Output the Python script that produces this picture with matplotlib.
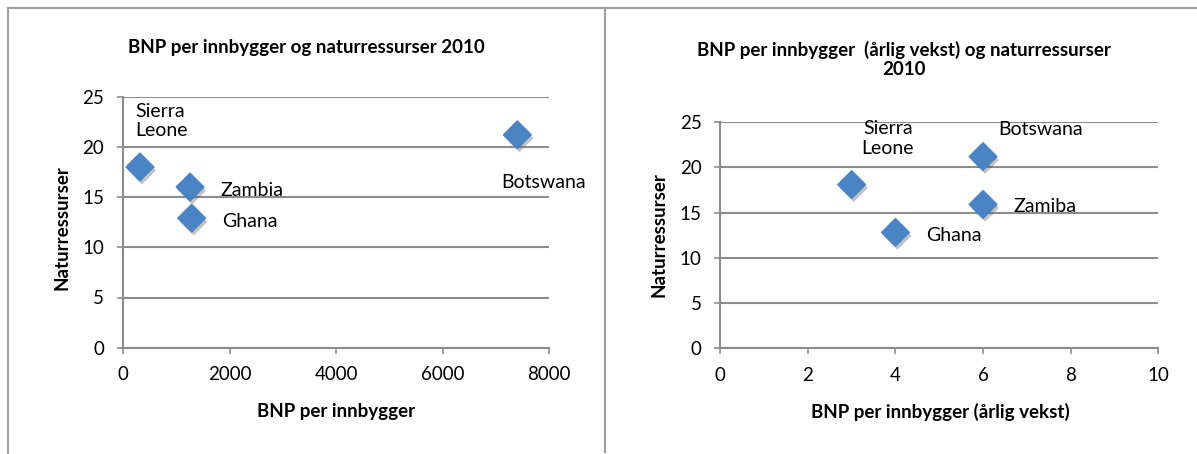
import matplotlib
matplotlib.use("Agg")
import matplotlib.pyplot as plt
import matplotlib.patheffects as pe
from matplotlib.lines import Line2D

plt.rcParams['font.family'] = ['Lato', 'DejaVu Sans']

# data
countries = ['Sierra\nLeone', 'Zambia', 'Ghana', 'Botswana']
bnp = [320, 1260, 1290, 7400]
ressurser_1 = [18.0, 16.0, 12.9, 21.2]

countries_2 = ['Sierra\nLeone', 'Botswana', 'Zamiba', 'Ghana']
vekst = [3, 6, 6, 4]
ressurser_2 = [18.1, 21.2, 15.9, 12.8]

# label offsets in pixels (dx, dy) and alignment
offs_1 = [(-5, 46, 'left'), (30, -3, 'left'), (30, -3, 'left'), (-16, -48, 'left')]
offs_2 = [(36, 46, 'center'), (15, 27, 'left'), (30, -2, 'left'), (31, -3, 'left')]

W, H = 1197, 454
fig = plt.figure(figsize=(W / 100, H / 100), dpi=100)

grey = '#8c8c8c'
blue = '#4a84c4'


def px(x, y):
    return x / W, 1 - y / H


def style_ax(ax, xmax, xstep):
    ax.set_ylim(0, 25)
    ax.set_xlim(0, xmax)
    ax.set_yticks(range(0, 26, 5))
    ax.set_xticks(range(0, xmax + 1, xstep))
    ax.yaxis.grid(True, color=grey, lw=1.5)
    ax.set_axisbelow(True)
    for s in ['top', 'right']:
        ax.spines[s].set_visible(False)
    for s in ['left', 'bottom']:
        ax.spines[s].set_color(grey)
        ax.spines[s].set_linewidth(1.5)
    ax.tick_params(axis='both', direction='out', length=4.5, width=1.2,
                   color=grey, labelsize=13.5)
    ax.tick_params(axis='y', pad=9)
    ax.tick_params(axis='x', pad=9)


def draw(ax, xs, ys, names, offs):
    ax.scatter(xs, ys, marker='D', s=200, color=blue, zorder=3, clip_on=False,
               path_effects=[pe.SimplePatchShadow(offset=(1.5, -2.5), alpha=0.35,
                                                  shadow_rgbFace='#555555'),
                             pe.Normal()])
    for x, y, n, (dx, dy, ha) in zip(xs, ys, names, offs):
        ax.annotate(n, (x, y), xytext=(dx, dy), textcoords='offset pixels',
                    ha=ha, va='center', fontsize=14, linespacing=1.2)


# left chart
ax1 = fig.add_axes([122.9 / W, 1 - 347.7 / H, 426.4 / W, 251 / H])
style_ax(ax1, 8000, 2000)
draw(ax1, bnp, ressurser_1, countries, offs_1)

# right chart
ax2 = fig.add_axes([720.3 / W, 1 - 348 / H, 437.9 / W, 225.7 / H])
style_ax(ax2, 10, 2)
draw(ax2, vekst, ressurser_2, countries_2, offs_2)

# titles and axis labels
fig.text(*px(306, 48), 'BNP per innbygger og naturressurser 2010',
         ha='center', va='center', fontsize=13.5, fontweight='bold')
fig.text(*px(904, 59.5), 'BNP per innbygger  (årlig vekst) og naturressurser\n2010',
         ha='center', va='center', fontsize=13.5, fontweight='bold', linespacing=1.2)
fig.text(*px(336, 412), 'BNP per innbygger', ha='center', va='center',
         fontsize=13.5, fontweight='bold')
fig.text(*px(940, 412), 'BNP per innbygger (årlig vekst)', ha='center', va='center',
         fontsize=13.5, fontweight='bold')
fig.text(*px(62, 228), 'Naturressurser', ha='center', va='center', rotation=90,
         fontsize=13.5, fontweight='bold')
fig.text(*px(659, 235), 'Naturressurser', ha='center', va='center', rotation=90,
         fontsize=13.5, fontweight='bold')

# frame lines around the charts
frame = '#a0a0a0'
fig.add_artist(Line2D([8 / W, 1], [1 - 7.5 / H, 1 - 7.5 / H], color=frame, lw=1.5))
fig.add_artist(Line2D([8 / W, 8 / W], [0, 1 - 7.5 / H], color=frame, lw=1.5))
fig.add_artist(Line2D([605 / W, 605 / W], [2 / H, 1 - 7.5 / H], color=frame, lw=1.5))

fig.savefig('out.png', dpi=100)
